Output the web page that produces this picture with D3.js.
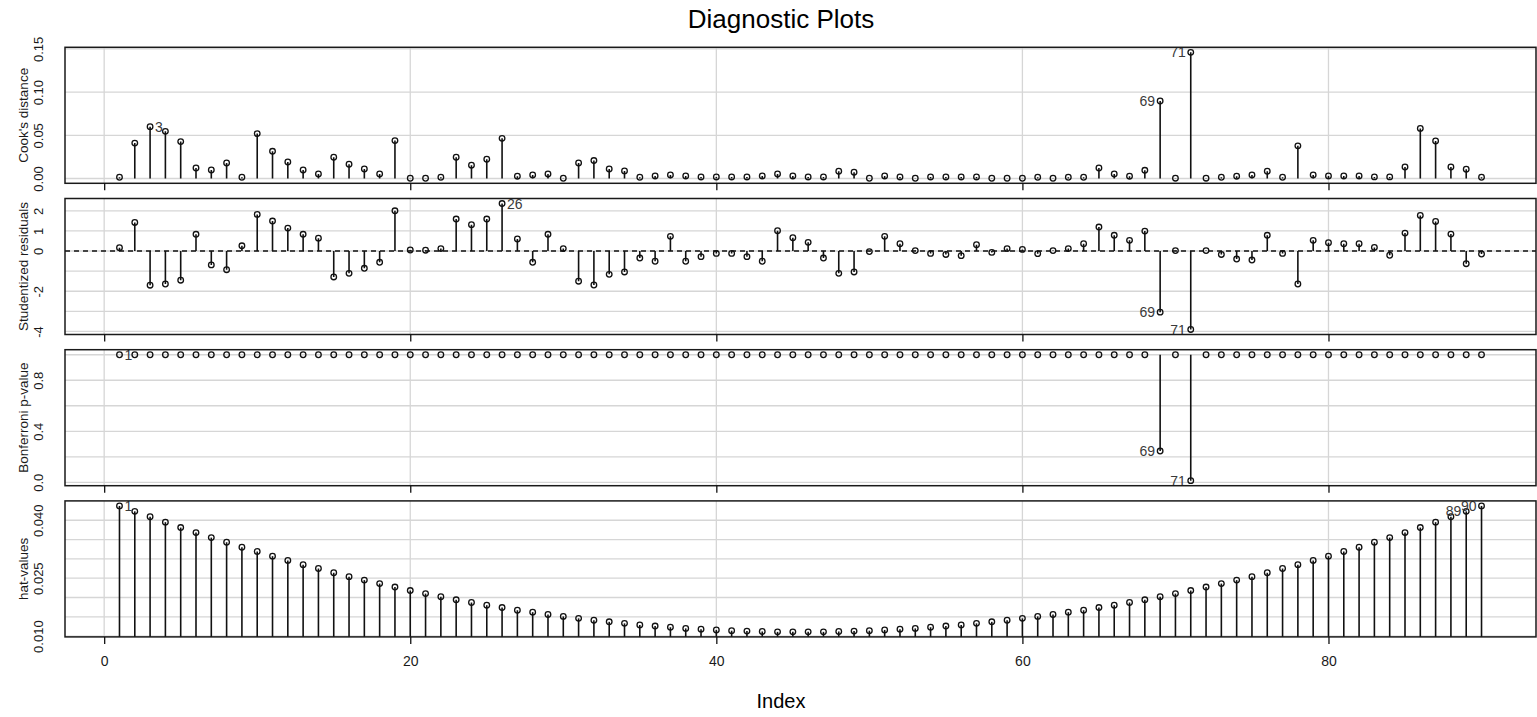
<!DOCTYPE html>
<html>
<head>
<meta charset="utf-8">
<script src="https://cdn.jsdelivr.net/npm/d3@7"></script>
<style>
  html, body { margin: 0; padding: 0; background: #fff; }
  svg { display: block; font-family: "Liberation Sans", Arial, sans-serif; }
</style>
</head>
<body>
<svg id="chart" width="1537" height="717"></svg>
<script>
// ---------------- DATA ----------------
const title = "Diagnostic Plots";
const xTitle = "Index";
const xTicks = [0, 20, 40, 60, 80];

const cooksD = [
  0.0015,0.041,0.060,0.0546,0.0427,0.0122,0.0099,0.018,0.0015,0.052,
  0.0315,0.0192,0.0099,0.0053,0.0246,0.0165,0.0111,0.0053,0.0439,0.0003,
  0.0003,0.0015,0.0246,0.0154,0.0223,0.0465,0.0027,0.0042,0.0053,0.0003,
  0.018,0.0208,0.0111,0.0088,0.0015,0.003,0.0042,0.003,0.0018,0.0018,
  0.0018,0.0018,0.003,0.0053,0.003,0.0018,0.0018,0.0084,0.0073,0.0003,
  0.003,0.0018,0.0003,0.0018,0.0018,0.0018,0.0018,0.0003,0.0003,0.0003,
  0.0015,0.0003,0.0015,0.0015,0.0122,0.0053,0.0027,0.0095,0.0897,0.0004,
  0.146,0.0004,0.0015,0.0027,0.0042,0.0084,0.0015,0.0378,0.0042,0.003,
  0.003,0.003,0.0019,0.0019,0.0134,0.058,0.0435,0.0134,0.0107,0.0015
];

const studentRes = [
  0.165,1.42,-1.70,-1.64,-1.45,0.83,-0.69,-0.93,0.26,1.82,
  1.49,1.14,0.83,0.64,-1.29,-1.11,-0.86,-0.56,2.00,0.05,
  0.04,0.12,1.59,1.31,1.59,2.36,0.60,-0.56,0.83,0.12,
  -1.50,-1.69,-1.16,-1.04,-0.35,-0.51,0.73,-0.51,-0.28,-0.12,
  -0.12,-0.28,-0.51,1.01,0.66,0.43,-0.35,-1.11,-1.04,-0.03,
  0.73,0.36,0.02,-0.12,-0.17,-0.23,0.31,-0.07,0.12,0.08,
  -0.13,0.02,0.12,0.36,1.19,0.78,0.53,0.99,-3.04,0.02,
  -3.90,0.02,-0.17,-0.40,-0.45,0.78,-0.12,-1.64,0.53,0.41,
  0.36,0.36,0.18,-0.21,0.89,1.77,1.47,0.84,-0.63,-0.15
];

const bonfP = [
  1,1,1,1,1,1,1,1,1,1,
  1,1,1,1,1,1,1,1,1,1,
  1,1,1,1,1,1,1,1,1,1,
  1,1,1,1,1,1,1,1,1,1,
  1,1,1,1,1,1,1,1,1,1,
  1,1,1,1,1,1,1,1,1,1,
  1,1,1,1,1,1,1,1,0.245,1,
  0.013,1,1,1,1,1,1,1,1,1,
  1,1,1,1,1,1,1,1,1,1
];

const hatValues = [
  0.0437,0.0423,0.0409,0.0395,0.0381,0.0368,0.0355,0.0343,0.0330,0.0319,
  0.0307,0.0296,0.0285,0.0275,0.0264,0.0254,0.0245,0.0236,0.0227,0.0218,
  0.0210,0.0202,0.0194,0.0187,0.0180,0.0174,0.0167,0.0162,0.0156,0.0151,
  0.0146,0.0141,0.0137,0.0133,0.0129,0.0126,0.0123,0.0120,0.0118,0.0116,
  0.0114,0.0113,0.0112,0.0111,0.0111,0.0111,0.0111,0.0112,0.0113,0.0114,
  0.0116,0.0118,0.0120,0.0123,0.0126,0.0129,0.0133,0.0137,0.0141,0.0146,
  0.0151,0.0156,0.0162,0.0167,0.0174,0.0180,0.0187,0.0194,0.0202,0.0210,
  0.0218,0.0227,0.0236,0.0245,0.0254,0.0264,0.0275,0.0285,0.0296,0.0307,
  0.0319,0.0330,0.0343,0.0355,0.0368,0.0381,0.0395,0.0409,0.0423,0.0437
];

const cookGrid = [0, 0.05, 0.10, 0.15];
const cookLabels = [0, 0.05, 0.10, 0.15];
const resGrid = [2, 1, 0, -1, -2, -3, -4];
const resLabels = [2, 1, 0, -2, -4];
const bonfGrid = [0, 0.2, 0.4, 0.6, 0.8, 1.0];
const bonfLabels = [0, 0.4, 0.8];
const hatGrid = [0.010, 0.015, 0.020, 0.025, 0.030, 0.035, 0.040];
const hatLabels = [0.010, 0.025, 0.040];

const cookIds = [3, 69, 71];
const resIds = [26, 69, 71];
const bonfIds = [1, 69, 71];
const hatIds = [1, 89, 90];

// ---------------- LAYOUT ----------------
const svg = d3.select("#chart");
const left = 65, right = 1536;
const panelTop0 = 47.3, panelH = 136, panelStep = 151.2;
const n = cooksD.length;
const idx = d3.range(1, n + 1);

const x = d3.scaleLinear()
  .domain([1 - 0.04 * (n - 1), n + 0.04 * (n - 1)])
  .range([left, right]);

const fmtMinus = f => v => f(v).replace("\u2212", "-");

const panels = [
  { name: "Cook's distance", values: cooksD, grid: cookGrid, labels: cookLabels, fmt: fmtMinus(d3.format(".2f")), ids: cookIds, base: 0, dashedZero: false },
  { name: "Studentized residuals", values: studentRes, grid: resGrid, labels: resLabels, fmt: fmtMinus(d3.format("d")), ids: resIds, base: 0, dashedZero: true },
  { name: "Bonferroni p-value", values: bonfP, grid: bonfGrid, labels: bonfLabels, fmt: fmtMinus(d3.format(".1f")), ids: bonfIds, base: 1, dashedZero: false },
  { name: "hat-values", values: hatValues, grid: hatGrid, labels: hatLabels, fmt: fmtMinus(d3.format(".3f")), ids: hatIds, base: 0, dashedZero: false }
];

// Title
svg.append("text")
  .attr("x", 781).attr("y", 28)
  .attr("text-anchor", "middle")
  .attr("font-size", 26)
  .attr("fill", "#000")
  .text(title);

panels.forEach((p, k) => {
  const top = panelTop0 + k * panelStep;
  const bottom = top + panelH;
  const ext = d3.extent(p.values);
  const pad = 0.04 * (ext[1] - ext[0]);
  const y = d3.scaleLinear().domain([ext[0] - pad, ext[1] + pad]).range([bottom, top]);

  const g = svg.append("g");
  const clipId = "clip" + k;
  svg.append("clipPath").attr("id", clipId)
    .append("rect").attr("x", left).attr("y", top).attr("width", right - left).attr("height", panelH);

  const inner = g.append("g").attr("clip-path", `url(#${clipId})`);

  // grid lines
  inner.selectAll("line.vg").data(xTicks).enter().append("line")
    .attr("x1", d => x(d)).attr("x2", d => x(d))
    .attr("y1", top).attr("y2", bottom)
    .attr("stroke", "#d6d6d6").attr("stroke-width", 1.3);
  inner.selectAll("line.hg").data(p.grid).enter().append("line")
    .attr("x1", left).attr("x2", right)
    .attr("y1", d => y(d)).attr("y2", d => y(d))
    .attr("stroke", "#d6d6d6").attr("stroke-width", 1.3);

  if (p.dashedZero) {
    inner.append("line")
      .attr("x1", left).attr("x2", right)
      .attr("y1", y(0)).attr("y2", y(0))
      .attr("stroke", "#111").attr("stroke-width", 1.4)
      .attr("stroke-dasharray", "5,4");
  }

  // stems
  inner.selectAll("line.stem").data(idx).enter().append("line")
    .attr("x1", i => x(i)).attr("x2", i => x(i))
    .attr("y1", y(p.base)).attr("y2", i => y(p.values[i - 1]))
    .attr("stroke", "#111").attr("stroke-width", 1.6);

  // points
  g.selectAll("circle").data(idx).enter().append("circle")
    .attr("cx", i => x(i)).attr("cy", i => y(p.values[i - 1]))
    .attr("r", 2.8)
    .attr("fill", "none").attr("stroke", "#111").attr("stroke-width", 1.3);

  // labels for notable points
  const mid = (n + 1) / 2;
  g.selectAll("text.lab").data(p.ids).enter().append("text")
    .attr("x", i => i < mid ? x(i) + 5 : x(i) - 5)
    .attr("y", i => y(p.values[i - 1]))
    .attr("dy", "0.36em")
    .attr("text-anchor", i => i < mid ? "start" : "end")
    .attr("font-size", 14)
    .attr("fill", "#3a3a3a")
    .text(i => String(i));

  // border
  g.append("rect")
    .attr("x", left).attr("y", top).attr("width", right - left).attr("height", panelH)
    .attr("fill", "none").attr("stroke", "#1a1a1a").attr("stroke-width", 1.5);

  // y axis (labels only, rotated)
  const yAxis = d3.axisLeft(y).tickValues(p.labels).tickSize(0).tickFormat(p.fmt);
  const ya = svg.append("g").attr("transform", `translate(${left},0)`).call(yAxis);
  ya.select(".domain").remove();
  ya.selectAll("text")
    .attr("x", null).attr("dy", null).attr("y", null)
    .attr("text-anchor", "middle")
    .attr("transform", "translate(-22,0) rotate(-90)")
    .attr("font-size", 13)
    .attr("font-family", "Liberation Sans, Arial, sans-serif")
    .attr("fill", "#1a1a1a");

  // y title
  svg.append("text")
    .attr("transform", `translate(28,${(top + bottom) / 2}) rotate(-90)`)
    .attr("text-anchor", "middle")
    .attr("font-size", 13.5)
    .attr("fill", "#1a1a1a")
    .text(p.name);

  // x axis ticks below each panel
  const isLast = k === panels.length - 1;
  const xAxis = d3.axisBottom(x).tickValues(xTicks).tickSize(7).tickPadding(12)
    .tickFormat(isLast ? d3.format("d") : () => "");
  const xa = svg.append("g").attr("transform", `translate(0,${bottom})`).call(xAxis);
  xa.select(".domain").remove();
  xa.selectAll("line").attr("stroke", "#111").attr("stroke-width", 1.3);
  xa.selectAll("text")
    .attr("font-size", 14)
    .attr("font-family", "Liberation Sans, Arial, sans-serif")
    .attr("fill", "#1a1a1a");
});

// x title
svg.append("text")
  .attr("x", 781).attr("y", 708)
  .attr("text-anchor", "middle")
  .attr("font-size", 20)
  .attr("fill", "#000")
  .text(xTitle);
</script>
</body>
</html>
